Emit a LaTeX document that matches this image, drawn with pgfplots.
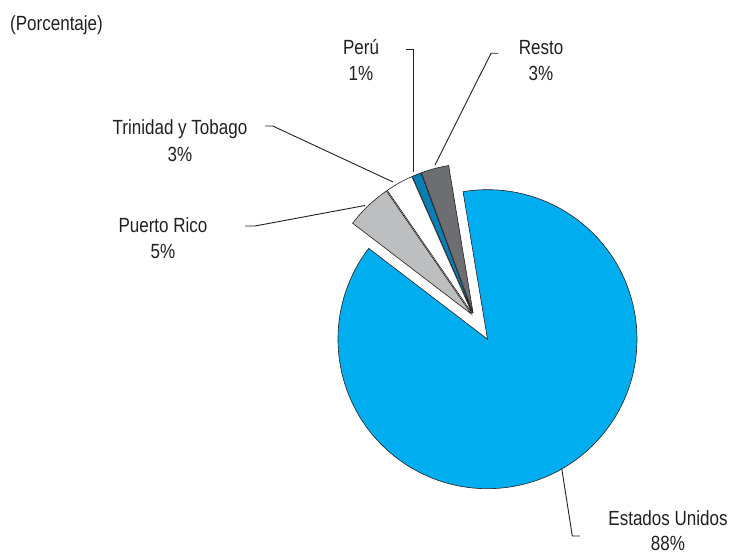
\documentclass[border=0pt]{standalone}
\usepackage{fontspec}
\setmainfont[FakeStretch=0.83]{Liberation Sans}
\usepackage{pgfplots}
\usepackage{pgfplotstable}
\pgfplotsset{compat=1.18}
\usetikzlibrary{calc}
\definecolor{cUS}{HTML}{00AEEF}
\definecolor{cPR}{HTML}{BCBEC0}
\definecolor{cTT}{HTML}{FFFFFF}
\definecolor{cPE}{HTML}{0A7FB5}
\definecolor{cRE}{HTML}{6D6E71}
\definecolor{txt}{HTML}{231F20}

% shares in percent, counter-clockwise from the gap edge
\pgfplotstableread{
name pct col expl
Resto 3 cRE 4
Peru 1 cPE 4
Trinidad 3 cTT 4
PuertoRico 5 cPR 4
EstadosUnidos 88 cUS 26
}\piedata

\begin{document}
\begin{tikzpicture}
\begin{axis}[
  name=ax,
  scale only axis,
  width=729pt, height=553pt,
  xmin=0, xmax=729, ymin=0, ymax=553,
  y dir=reverse,
  hide axis,
  clip=false,
]
  \pgfplotsextra{
    \xdef\angA{99.4}
    \foreach \i in {0,...,4}{
      \pgfplotstablegetelem{\i}{pct}\of\piedata \let\sliceval\pgfplotsretval
      \pgfplotstablegetelem{\i}{col}\of\piedata \let\slicecol\pgfplotsretval
      \pgfplotstablegetelem{\i}{expl}\of\piedata \let\sliceexp\pgfplotsretval
      \pgfmathsetmacro\angB{\angA+3.6*\sliceval}
      \pgfmathsetmacro\angM{(\angA+\angB)/2}
      \filldraw[fill=\slicecol, draw=txt, line width=0.6pt, line join=miter]
        ($(axis cs:474.1,316.9)+(\angM:\sliceexp pt)$) -- ++(\angA:149.5pt)
        arc[start angle=\angA, end angle=\angB, radius=149.5pt] -- cycle;
      \xdef\angA{\angB}
    }
  }
  % leader lines
  \draw[txt, line width=0.9pt] (axis cs:406,49.3) -- (axis cs:413.3,49.3) -- (axis cs:413.3,172);
  \draw[txt, line width=0.9pt] (axis cs:498.3,53.3) -- (axis cs:491,53.3) -- (axis cs:435,165);
  \draw[txt, line width=0.9pt] (axis cs:265,126) -- (axis cs:272.7,126) -- (axis cs:393,182);
  \draw[txt, line width=0.9pt] (axis cs:245,226) -- (axis cs:255,226) -- (axis cs:365,205.5);
  \draw[txt, line width=0.9pt] (axis cs:580,536) -- (axis cs:572.3,536) -- (axis cs:561.7,468.3);
  % labels
  \begin{scope}[every node/.style={txt, inner sep=0pt, anchor=base, font=\fontsize{20.5}{24}\selectfont}]
    \node[anchor=base west] at (axis cs:10,31) {(Porcentaje)};
    \node at (axis cs:361,54.7) {Perú};
    \node at (axis cs:361,80.7) {1\%};
    \node at (axis cs:541,54.7) {Resto};
    \node at (axis cs:541,80.7) {3\%};
    \node at (axis cs:180,134.3) {Trinidad y Tobago};
    \node at (axis cs:180,161.7) {3\%};
    \node at (axis cs:163,232.7) {Puerto Rico};
    \node at (axis cs:163,258.7) {5\%};
    \node at (axis cs:668,525.7) {Estados Unidos};
    \node at (axis cs:668,550) {88\%};
  \end{scope}
\end{axis}
\pgfresetboundingbox
\useasboundingbox (ax.south west) rectangle (ax.north east);
\end{tikzpicture}
\end{document}
